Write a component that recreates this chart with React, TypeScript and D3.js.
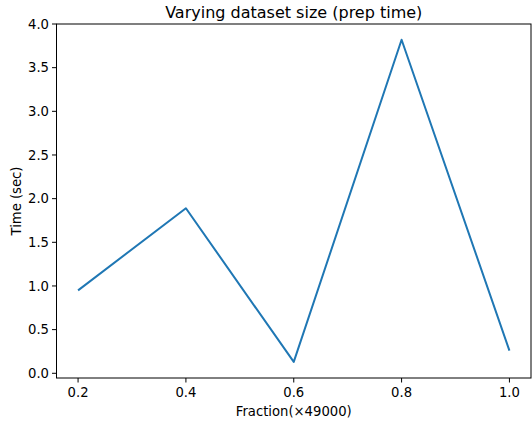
import * as d3 from 'd3'

const fractions = [0.2, 0.4, 0.6, 0.8, 1.0]
const prepTimes = [0.95, 1.89, 0.13, 3.82, 0.26]
const xTicks = [0.2, 0.4, 0.6, 0.8, 1.0]
const yTicks = [0, 0.5, 1, 1.5, 2, 2.5, 3, 3.5, 4]

const W = 532
const H = 421
const margin = { top: 24, right: 1, bottom: 43, left: 56.5 }

export default function App() {
  const x = d3.scaleLinear().domain([0.16, 1.04]).range([margin.left, W - margin.right])
  const y = d3.scaleLinear().domain([-0.054, 4.0]).range([H - margin.bottom, margin.top])
  const line = d3.line<number>()
    .x((_, i) => x(fractions[i]))
    .y(d => y(d))
  const font = 'DejaVu Sans, sans-serif'

  return (
    <svg width={W} height={H} style={{ position: 'absolute', left: 0, top: 0, background: '#fff' }} fontFamily={font}>
      <text x={(margin.left + W - margin.right) / 2} y={17.5} textAnchor="middle" fontSize={16} fill="#000">
        Varying dataset size (prep time)
      </text>
      <path d={line(prepTimes) || ''} fill="none" stroke="#1f77b4" strokeWidth={2} strokeLinejoin="round" />
      <rect x={margin.left} y={margin.top} width={W - margin.right - margin.left} height={H - margin.bottom - margin.top}
        fill="none" stroke="#000" strokeWidth={1} />
      {xTicks.map(t => (
        <g key={t} transform={`translate(${x(t)},${H - margin.bottom})`}>
          <line y2={4.5} stroke="#000" />
          <text y={19} textAnchor="middle" fontSize={13.2} fill="#000">{t.toFixed(1)}</text>
        </g>
      ))}
      {yTicks.map(t => (
        <g key={t} transform={`translate(${margin.left},${y(t)})`}>
          <line x2={-4.5} stroke="#000" />
          <text x={-7.5} dy="0.36em" textAnchor="end" fontSize={13.2} fill="#000">{t.toFixed(1)}</text>
        </g>
      ))}
      <text x={(margin.left + W - margin.right) / 2} y={416} textAnchor="middle" fontSize={13.2} fill="#000">
        Fraction(×49000)
      </text>
      <text transform={`translate(20.5,${(margin.top + H - margin.bottom) / 2}) rotate(-90)`} textAnchor="middle" fontSize={13.2} fill="#000">
        Time (sec)
      </text>
    </svg>
  )
}
